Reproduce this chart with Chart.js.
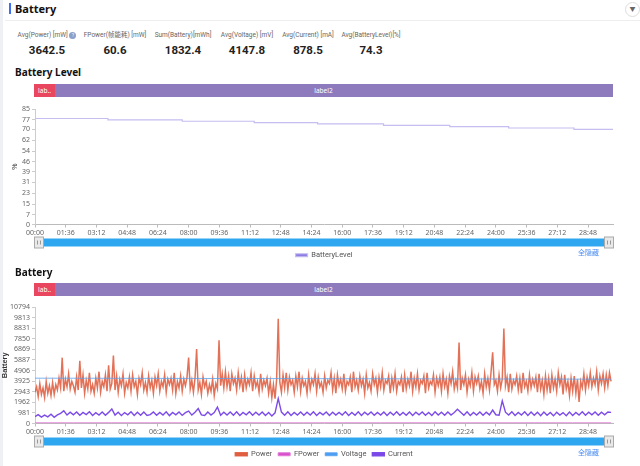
<!DOCTYPE html>
<html>
<head>
<meta charset="utf-8">
<script src="https://cdn.jsdelivr.net/npm/chart.js@4.4.1/dist/chart.umd.min.js"></script>
<style>
  body { margin: 0; width: 640px; height: 466px; overflow: hidden; background: #fff;
         font-family: "Noto Sans", "Noto Sans CJK SC", sans-serif; position: relative; }
  .abs { position: absolute; }
  .stat { position: absolute; width: 90px; text-align: center; }
  .stat .lb { font-family: Roboto, "Noto Sans CJK SC", sans-serif; font-size: 6.5px; line-height: 9px; color: #666; white-space: nowrap; }
  .stat .vl { font-family: Roboto, sans-serif; font-size: 11.5px; line-height: 15px; font-weight: bold; color: #222; margin-top: 3px; }
  .band { position: absolute; left: 34px; width: 579px; height: 13px; background: #8e7bbd; }
  .band .red { position: absolute; left: 0; top: 0; width: 21px; height: 13px; background: #e8475f;
               color: #fff; font-size: 6.5px; line-height: 13px; text-align: center; }
  .band .lb2 { position: absolute; left: 0; width: 579px; top: 0; text-align: center; color: #fff;
               font-size: 6.5px; line-height: 13px; }
  .sec { position: absolute; left: 15px; font-size: 10px; font-weight: bold; color: #111; }
  .hide { position: absolute; left: 578px; font-size: 7px; color: #4a8cf0; }
</style>
</head>
<body>
<div class="abs" style="left:0;top:0;width:3px;height:466px;background:#eef0f3"></div>
<div class="abs" style="left:9px;top:3px;width:2px;height:11px;background:#3e6ff0"></div>
<div class="abs" style="left:15px;top:1px;font-size:11px;font-weight:bold;color:#111">Battery</div>
<div class="abs" style="left:625px;top:2px;width:13px;height:13px;border:1px solid #ddd;border-radius:50%;font-size:6px;color:#666;text-align:center;line-height:13px">▼</div>
<div class="abs" style="left:5px;top:20px;width:635px;height:1px;background:#eee"></div>

<div class="stat" style="left:2px;top:31px"><div class="lb">Avg(Power) [mW] <span style="display:inline-block;width:7px;height:7px;border-radius:50%;background:#8aa0c8;color:#fff;font-size:5px;line-height:7px">?</span></div><div class="vl">3642.5</div></div>
<div class="stat" style="left:70px;top:31px"><div class="lb">FPower(帧能耗) [mW]</div><div class="vl">60.6</div></div>
<div class="stat" style="left:138px;top:31px"><div class="lb">Sum(Battery)[mWh]</div><div class="vl">1832.4</div></div>
<div class="stat" style="left:202px;top:31px"><div class="lb">Avg(Voltage) [mV]</div><div class="vl">4147.8</div></div>
<div class="stat" style="left:263px;top:31px"><div class="lb">Avg(Current) [mA]</div><div class="vl">878.5</div></div>
<div class="stat" style="left:326px;top:31px"><div class="lb">Avg(BatteryLevel)[%]</div><div class="vl">74.3</div></div>

<div class="sec" style="top:65px">Battery Level</div>
<div class="band" style="top:84px"><div class="lb2">label2</div><div class="red">lab..</div></div>
<div class="abs" style="left:0;top:100px;width:640px;height:169px"><canvas id="levelChart"></canvas></div>
<div class="hide" style="top:247px">全隐藏</div>

<div class="sec" style="top:265px">Battery</div>
<div class="band" style="top:283px"><div class="lb2">label2</div><div class="red">lab..</div></div>
<div class="abs" style="left:0;top:298px;width:640px;height:170px"><canvas id="batteryChart"></canvas></div>
<div class="hide" style="top:447px">全隐藏</div>

<script>
// x axis ticks (mm:ss)
const xTickValues = [0, 96, 192, 288, 384, 480, 576, 672, 768, 864, 960, 1056, 1152, 1248, 1344, 1440, 1536, 1632, 1728];
const xTickLabels = ["00:00", "01:36", "03:12", "04:48", "06:24", "08:00", "09:36", "11:12", "12:48", "14:24",
                     "16:00", "17:36", "19:12", "20:48", "22:24", "24:00", "25:36", "27:12", "28:48"];
const xMax = 1806;

const levelTicks = [0, 7, 15, 23, 31, 39, 46, 54, 62, 70, 77, 85];
const batteryTicks = [0, 981, 1962, 2943, 3925, 4906, 5887, 6869, 7850, 8831, 9813, 10794];

// battery level steps
const levelTimes = [0, 228, 460, 685, 883, 1089, 1296, 1480, 1684, 1806];
const levelValues = [78, 77, 76, 75, 74, 73, 72, 71, 70, 70];

// power sampled every 5 s
const powerStep = 5;
const powerValues = [
  2900, 3400, 2500, 3700, 2700, 3300, 2400, 3900, 2800, 3500, 2600, 3800,
  2700, 3600, 3100, 4200, 3300, 6100, 3000, 4100, 3400, 4600, 3200, 3900,
  3500, 2900, 4300, 3100, 5800, 3300, 4500, 2800, 4000, 3200, 4700, 3000,
  3600, 2800, 4200, 3300, 4800, 2900, 3900, 3400, 4500, 3000, 5400, 3200,
  3700, 6300, 3100, 4400, 2900, 4100, 3500, 4600, 2800, 3800, 3300, 4300,
  3000, 4500, 3400, 3900, 2700, 4200, 3600, 4700, 3100, 3800, 2900, 4400,
  3300, 4000, 2800, 4300, 3500, 4600, 3000, 3900, 3400, 4500, 2900, 4100,
  3600, 4200, 3100, 4700, 2800, 3900, 3300, 4400, 3000, 4100, 3500, 4300,
  6100, 3200, 4000, 2900, 4200, 6900, 3100, 3800, 2700, 4300, 3400, 3900,
  2800, 3600, 3000, 4100, 2600, 3700, 3200, 7700, 3500, 4600, 3300, 4800,
  3400, 4400, 3000, 4600, 3700, 4200, 3100, 4700, 3500, 4300, 2900, 4500,
  3300, 4100, 3600, 4700, 3000, 4400, 3400, 3900, 2900, 4600, 3200, 4000,
  3500, 4200, 2800, 3900, 2400, 3600, 2300, 4100, 9700, 3800, 2900, 4500,
  3300, 4700, 3100, 4300, 3600, 4000, 2900, 4400, 3400, 4800, 3000, 4200,
  3500, 3900, 2800, 4500, 3200, 4100, 3600, 4600, 3000, 4300, 3400, 3800,
  2900, 4400, 3300, 4000, 3700, 4700, 3100, 4200, 2800, 4500, 3500, 4100,
  3200, 4600, 3000, 3900, 3600, 4300, 2900, 4800, 3400, 4000, 3100, 4400,
  3500, 4100, 2800, 4500, 3300, 3800, 3000, 4600, 3600, 4200, 2900, 4300,
  3400, 4700, 3100, 4000, 3700, 4400, 2800, 4200, 3300, 4600, 3000, 3900,
  3600, 4300, 2900, 4500, 3200, 4100, 3500, 4800, 3000, 4200, 3400, 4600,
  3100, 4000, 3700, 4400, 2800, 4700, 3300, 3900, 3600, 4500, 2900, 4200,
  3500, 4300, 3000, 4600, 3400, 4100, 2800, 4400, 3700, 4800, 3200, 4000,
  3300, 7500, 3100, 4200, 3600, 4500, 2900, 4100, 3500, 4700, 3000, 4300,
  3700, 4400, 3200, 3900, 2800, 4600, 3400, 4200, 3100, 4800, 6600, 3600,
  4000, 3000, 4500, 3300, 4100, 8800, 3500, 4300, 2900, 4600, 3200, 4000,
  3600, 4400, 3100, 4200, 2800, 4700, 3400, 3900, 3000, 4500, 3300, 4100,
  3500, 4300, 2900, 4600, 3200, 4000, 2700, 4400, 3100, 4200, 2800, 4500,
  3300, 4100, 3000, 4700, 3600, 4300, 2700, 4500, 3200, 3900, 2600, 4200,
  3000, 4400, 2800, 4100, 2000, 3900, 3300, 4600, 3100, 4300, 3500, 4700,
  3400, 4200, 3600, 4800, 3100, 4400, 3700, 4600, 3300, 4500, 3500, 4700,
  3900
];

// current sampled every 10 s
const currentStep = 10;
const currentValues = [
  640, 820, 590, 780, 620, 860, 570, 800, 940, 1180, 780, 1050,
  800, 1060, 760, 1020, 820, 1080, 740, 1000, 790, 1070, 760, 1030,
  1350, 780, 1050, 730, 1010, 800, 1090, 750, 1040, 770, 1060, 740,
  820, 1070, 760, 1030, 790, 1080, 730, 1020, 800, 1060, 750, 1010,
  1150, 780, 1040, 1380, 800, 740, 1070, 790, 1020, 1520, 760, 1040,
  790, 1060, 770, 1090, 740, 1030, 800, 1080, 760, 1040, 780, 1070,
  750, 1020, 700, 990, 2300, 1060, 770, 1090, 740, 1030, 790, 1060,
  760, 1040, 780, 1080, 750, 1020, 800, 1070, 740, 1050, 780, 1030,
  790, 1080, 750, 1020, 770, 1090, 740, 1050, 800, 1060, 760, 1030,
  780, 1070, 750, 1040, 790, 1080, 760, 1020, 770, 1070, 740, 1050,
  800, 1060, 770, 1030, 750, 1090, 780, 1040, 760, 1070, 790, 1020,
  1320, 1050, 770, 1090, 740, 1030, 780, 1070, 760, 1040, 800, 1250,
  810, 760, 2100, 1050, 780, 1090, 750, 1030, 790, 1080, 740, 1060,
  770, 1040, 730, 1070, 760, 1020, 710, 1050, 780, 1010, 720, 1060,
  750, 1030, 790, 1080, 760, 1040, 800, 1070, 770, 1050, 810, 1060,
  1030
];

// voltage and fpower sampled every 120 s
const slowStep = 120;
const voltageValues = [4200, 4195, 4190, 4182, 4178, 4170, 4165, 4158, 4150, 4144, 4138, 4130, 4124, 4118, 4112, 4106];
const fpowerValues = [62, 58, 61, 60, 59, 63, 60, 57, 61, 60, 62, 59, 60, 61, 58, 60];

const toPoints = (vals, step) => vals.map((v, i) => ({ x: i * step, y: v }));

const tickFont = { size: 7, family: "Noto Sans" };

// blue zoom slider under the x axis, legend centred on the plot
const sliderPlugin = {
    id: "slider",
    afterLayout(chart) {
        chart.legend.left = chart.chartArea.left;
    },
    afterDraw(chart) {
        const c = chart.ctx;
        const a = chart.chartArea;
        const y0 = chart.scales.x.top + 14;
        c.save();
        c.fillStyle = "#2ea7f0";
        c.fillRect(a.left, y0, a.right - a.left, 8);
        for (const hx of [a.left - 1, a.right - 9]) {
            c.fillStyle = "#e9e9e9";
            c.strokeStyle = "#aaa";
            c.lineWidth = 1;
            c.fillRect(hx + 0.5, y0 - 1.5, 9, 11);
            c.strokeRect(hx + 0.5, y0 - 1.5, 9, 11);
            c.fillStyle = "#999";
            c.fillRect(hx + 3, y0 + 2, 1, 4);
            c.fillRect(hx + 6, y0 + 2, 1, 4);
        }
        c.restore();
    },
};

function makeScales(yTicks, yMax, yTitle, yTitleFont, titlePad) {
    return {
        x: {
            type: "linear",
            min: 0,
            max: xMax,
            afterBuildTicks: (axis) => { axis.ticks = xTickValues.map((v) => ({ value: v })); },
            afterFit: (scale) => { scale.height = 21; },
            ticks: {
                font: tickFont,
                color: "#666",
                padding: 1,
                maxRotation: 0,
                autoSkip: false,
                callback: (v, i) => xTickLabels[i],
            },
            grid: { drawOnChartArea: false, tickLength: 3, color: "#bbb" },
            border: { color: "#bbb" },
        },
        y: {
            min: 0,
            max: yMax,
            afterBuildTicks: (axis) => { axis.ticks = yTicks.map((v) => ({ value: v })); },
            afterFit: (scale) => { scale.width = 35; },
            ticks: { font: tickFont, color: "#666", padding: 2, autoSkip: false, callback: (v) => String(v) },
            grid: { drawOnChartArea: false, tickLength: 3, color: "#ccc" },
            border: { color: "#ccc" },
            title: { display: true, text: yTitle, font: yTitleFont, color: "#333", padding: { top: titlePad, bottom: 0 } },
        },
    };
}

const legendOpts = {
    position: "bottom",
    labels: {
        font: { size: 7.5, family: "Roboto" },
        color: "#555",
        boxWidth: 12,
        boxHeight: 3,
        padding: 6,
        sort: (a, b) => a.datasetIndex - b.datasetIndex,
    },
};

new Chart(document.getElementById("levelChart"), {
    type: "line",
    data: {
        datasets: [
            {
                label: "BatteryLevel",
                data: levelTimes.map((t, i) => ({ x: t, y: levelValues[i] })),
                borderColor: "#c6bdf0",
                backgroundColor: "#8d7ee6",
                borderWidth: 1.2,
                pointRadius: 0,
                stepped: true,
            },
        ],
    },
    options: {
        responsive: true,
        maintainAspectRatio: false,
        animation: false,
        layout: { padding: { top: 9, right: 27, left: 0, bottom: 0 } },
        scales: makeScales(levelTicks, 85, "%", { size: 7 }, 11),
        plugins: { legend: legendOpts, tooltip: { enabled: false } },
    },
    plugins: [sliderPlugin],
});

new Chart(document.getElementById("batteryChart"), {
    type: "line",
    data: {
        datasets: [
            {
                label: "Power",
                data: toPoints(powerValues, powerStep),
                borderColor: "rgba(222,88,58,0.85)",
                backgroundColor: "#e0603f",
                borderWidth: 1.5,
                pointRadius: 0,
                order: 2,
            },
            {
                label: "FPower",
                data: toPoints(fpowerValues, slowStep),
                borderColor: "#e27ad8",
                backgroundColor: "#d94fcb",
                borderWidth: 1,
                pointRadius: 0,
                order: 3,
            },
            {
                label: "Voltage",
                data: toPoints(voltageValues, slowStep),
                borderColor: "rgba(90,160,240,0.8)",
                backgroundColor: "#4a9ff5",
                borderWidth: 1,
                pointRadius: 0,
                order: 1,
            },
            {
                label: "Current",
                data: toPoints(currentValues, currentStep),
                borderColor: "#7c4ce8",
                backgroundColor: "#7c44e6",
                borderWidth: 1.4,
                pointRadius: 0,
                order: 0,
            },
        ],
    },
    options: {
        responsive: true,
        maintainAspectRatio: false,
        animation: false,
        layout: { padding: { top: 9, right: 27, left: 0, bottom: 0 } },
        scales: makeScales(batteryTicks, 10794, "Battery", { size: 7.5, weight: "bold" }, 0),
        plugins: { legend: legendOpts, tooltip: { enabled: false } },
    },
    plugins: [sliderPlugin],
});
</script>
</body>
</html>
